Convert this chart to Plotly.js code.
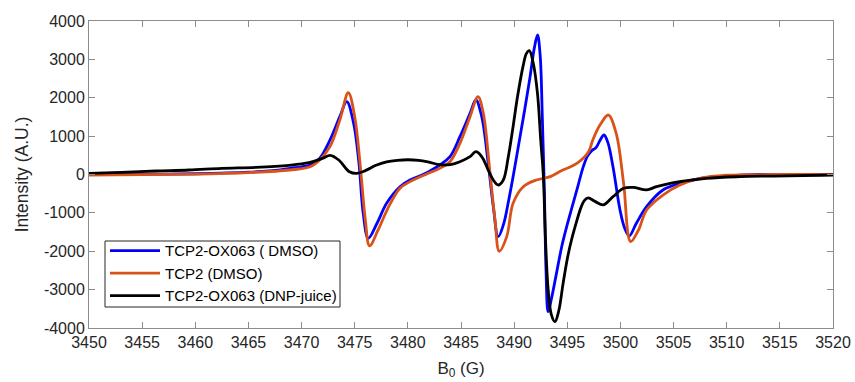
<!DOCTYPE html>
<html>
<head>
<meta charset="utf-8">
<script src="https://cdn.plot.ly/plotly-3.0.1.min.js"></script>
<style>html,body{margin:0;padding:0;background:#fff;}#chart{width:855px;height:382px;}</style>
</head>
<body>
<div id="chart"></div>
<script>
// Series names
const seriesNames = ["TCP2-OX063 ( DMSO)", "TCP2 (DMSO)", "TCP2-OX063 (DNP-juice)"];

// Blue: TCP2-OX063 (DMSO)
const blueX = [3450,3455,3460,3465,3468,3468.9,3470,3470.8,3471.7,3472.67,3473.6,3474.25,3474.9,3475.4,3475.8,3476.28,3477.1,3478.0,3479.26,3480.2,3481,3482,3483,3483.96,3484.9,3485.85,3486.4,3486.95,3487.56,3488.04,3488.5,3489.0,3489.5,3490.0,3490.5,3491.0,3491.5,3491.9,3492.2,3492.45,3492.65,3492.85,3493.0,3493.2,3493.5,3494.0,3494.5,3495.0,3495.5,3496.0,3496.5,3496.9,3497.3,3497.7,3498.1,3498.45,3498.8,3499.3,3499.96,3500.4,3500.83,3501.5,3502.46,3504,3505.6,3507.5,3510,3513,3515,3520];
const blueY = [0,5,20,60,120,160,200,247,421,899,1507,1897,1333,291,-1010,-1662,-1271,-750,-318,-143,-50,80,247,464,985,1594,1941,1507,291,-838,-1620,-1300,-650,100,900,1700,2550,3300,3635,3100,1500,-500,-2500,-3575,-3250,-2550,-1850,-1300,-800,-300,200,480,620,700,900,1029,850,203,-925,-1400,-1602,-1270,-838,-404,-230,-100,-40,0,-10,0];

// Orange: TCP2 (DMSO)
const orangeX = [3450,3455,3460,3465,3468.9,3470.8,3471.7,3472.67,3473.6,3474.4,3475.0,3475.5,3476.0,3476.4,3477.2,3478.2,3479.26,3480.2,3481,3482,3483,3483.96,3484.9,3485.85,3486.6,3487.1,3487.7,3488.2,3488.6,3489.3,3489.9,3490.86,3492.1,3493.4,3494.3,3495.9,3497.0,3497.4,3498.1,3498.86,3499.6,3500.3,3500.96,3501.7,3502.46,3504,3505.6,3507.5,3510,3515,3520];
const orangeY = [-15,-5,10,50,117,200,380,725,1420,2130,1507,291,-1185,-1860,-1446,-838,-360,-185,-80,40,160,334,812,1507,2030,1594,117,-1185,-2000,-1620,-750,-318,-143,-56,80,291,594,900,1300,1550,1073,-230,-1750,-1446,-925,-535,-274,-100,-20,0,5];

// Black: TCP2-OX063 (DNP-juice)
const blackX = [3450,3453,3456.3,3459.4,3462.5,3465.7,3468.8,3470.7,3471.95,3472.7,3473.5,3474.5,3475.2,3476,3477,3478,3479,3480,3481,3482,3483,3484,3484.9,3485.85,3486.4,3486.95,3487.56,3488.04,3488.5,3488.98,3489.45,3489.9,3490.3,3490.86,3491.15,3491.43,3491.8,3492.2,3492.5,3492.74,3492.95,3493.2,3493.5,3493.84,3494.2,3494.6,3495.0,3495.4,3495.9,3496.3,3496.6,3496.97,3497.6,3498.4,3499.3,3500.3,3501.2,3502.46,3503.4,3505,3508.1,3511.25,3514.4,3520];
const blackY = [30,56,91,117,160,188,240,308,421,500,378,73,30,100,240,330,370,385,370,320,255,260,334,465,594,465,117,-143,-274,-143,464,1245,2000,2850,3150,3226,2900,2100,900,0,-1700,-3000,-3650,-3835,-3550,-2850,-2200,-1700,-1200,-850,-680,-610,-700,-790,-578,-360,-334,-400,-318,-213,-100,-56,-40,-13];

// Axis ticks
const xTicks = [3450,3455,3460,3465,3470,3475,3480,3485,3490,3495,3500,3505,3510,3515,3520];
const yTicks = [-4000,-3000,-2000,-1000,0,1000,2000,3000,4000];

const colors = ["#0000FF", "#D95319", "#000000"];
const FONT = "Liberation Sans, Arial, Helvetica, sans-serif";

const traces = [
  {x: blueX, y: blueY, name: seriesNames[0]},
  {x: orangeX, y: orangeY, name: seriesNames[1]},
  {x: blackX, y: blackY, name: seriesNames[2]}
].map((t, i) => Object.assign(t, {
  type: "scatter", mode: "lines",
  line: {color: colors[i], width: 2.8, shape: "spline", smoothing: 1}
}));

const axisCommon = {
  showline: true, linecolor: "#8c8c8c", linewidth: 1, mirror: "ticks",
  ticks: "inside", ticklen: 6, tickcolor: "#8c8c8c", tickwidth: 1,
  showgrid: false, zeroline: false,
  tickfont: {family: FONT, size: 16, color: "#262626"}
};

// legend frame position (paper coords), drawn as a shape
const boxX0 = (105 - 89) / 744, boxX1 = (340 - 89) / 744;
const boxY1 = (328 - 241) / 307, boxY0 = (328 - 307) / 307;

const layout = {
  width: 855, height: 382,
  margin: {l: 89, r: 22, t: 21, b: 54},
  paper_bgcolor: "#fff", plot_bgcolor: "#fff",
  showlegend: true,
  xaxis: Object.assign({}, axisCommon, {
    range: [3450, 3520], tickvals: xTicks, ticktext: xTicks.map(String),
    title: {text: "B<sub>0</sub> (G)", font: {family: FONT, size: 17, color: "#262626"}, standoff: 11}
  }),
  yaxis: Object.assign({}, axisCommon, {
    range: [-4000, 4000], tickvals: yTicks, ticktext: yTicks.map(String),
    title: {text: "Intensity (A.U.)", font: {family: FONT, size: 17.5, color: "#262626"}, standoff: 10}
  }),
  shapes: [{
    type: "rect", xref: "paper", yref: "paper", layer: "above",
    x0: boxX0, x1: boxX1, y0: boxY0, y1: boxY1,
    line: {color: "#262626", width: 1}, fillcolor: "#fff"
  }],
  legend: {
    x: 0.0215, y: 0.305, xanchor: "left", yanchor: "top",
    bgcolor: "rgba(0,0,0,0)", borderwidth: 0,
    font: {family: FONT, size: 15, color: "#000"},
    tracegroupgap: 0, itemwidth: 50
  }
};

Plotly.newPlot("chart", traces, layout, {displayModeBar: false, staticPlot: true});
</script>
</body>
</html>
